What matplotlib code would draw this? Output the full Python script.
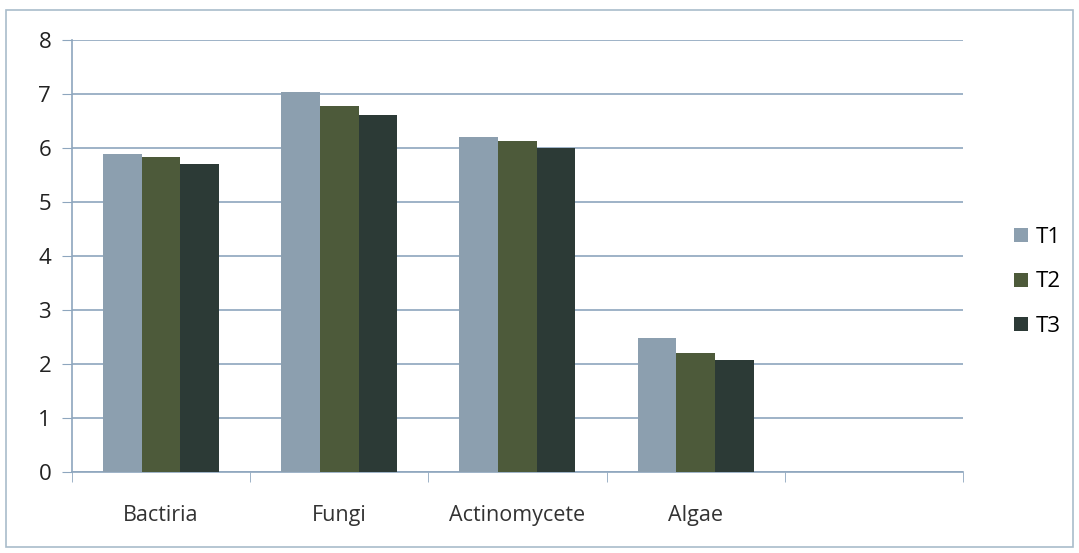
import numpy as np
import matplotlib.pyplot as plt
from matplotlib.patches import Rectangle

plt.rcParams['font.family'] = ['Open Sans', 'DejaVu Sans']

# data
categories = ['Bactiria', 'Fungi', 'Actinomycete', 'Algae']
t1 = [5.89, 7.03, 6.20, 2.48]
t2 = [5.83, 6.78, 6.13, 2.20]
t3 = [5.70, 6.62, 6.00, 2.07]
series = ['T1', 'T2', 'T3']
colors = ['#8c9faf', '#4d5a3a', '#2c3a36']
n_slots = 5  # chart has one empty slot after Algae

fig = plt.figure(figsize=(10.79, 5.53), dpi=100)
ax = fig.add_axes([0.0667, 0.1465, 0.8258, 0.7812])

# light border round the whole chart
fig.patches.append(Rectangle((0.006, 0.01), 0.988, 0.972, transform=fig.transFigure,
                             fill=False, edgecolor='#a9bccb', linewidth=1.2))

x = np.arange(len(categories))
w = 0.217
for i, (vals, c, lab) in enumerate(zip([t1, t2, t3], colors, series)):
    ax.bar(x + (i - 1) * w, vals, width=w, color=c, label=lab, zorder=3)

ax.set_xlim(-0.5, n_slots - 0.5)
ax.set_ylim(0, 8)
ax.set_yticks(range(0, 9))
ax.set_xticks(x)
ax.set_xticklabels(categories)
ax.set_xticks(np.arange(-0.5, n_slots), minor=True)
ax.tick_params(axis='x', which='major', length=0, pad=24, labelsize=15.5, labelcolor='#333333')
ax.tick_params(axis='x', which='minor', length=7, color='#8ea6be', direction='out')
ax.tick_params(axis='y', length=7, color='#8ea6be', labelsize=16, labelcolor='#222222', pad=8)

ax.grid(axis='y', color='#8ea6be', linewidth=1.2, zorder=0)
for s in ['top', 'right']:
    ax.spines[s].set_visible(False)
ax.spines['left'].set_color('#8ea6be')
ax.spines['bottom'].set_color('#8ea6be')
ax.spines['left'].set_linewidth(1.2)
ax.spines['bottom'].set_linewidth(1.2)

ax.legend(loc='center left', bbox_to_anchor=(1.035, 0.44), frameon=False, fontsize=16,
          handlelength=0.6, handleheight=0.6, handletextpad=0.35, labelspacing=1.05)

plt.savefig('out.png', dpi=100)
